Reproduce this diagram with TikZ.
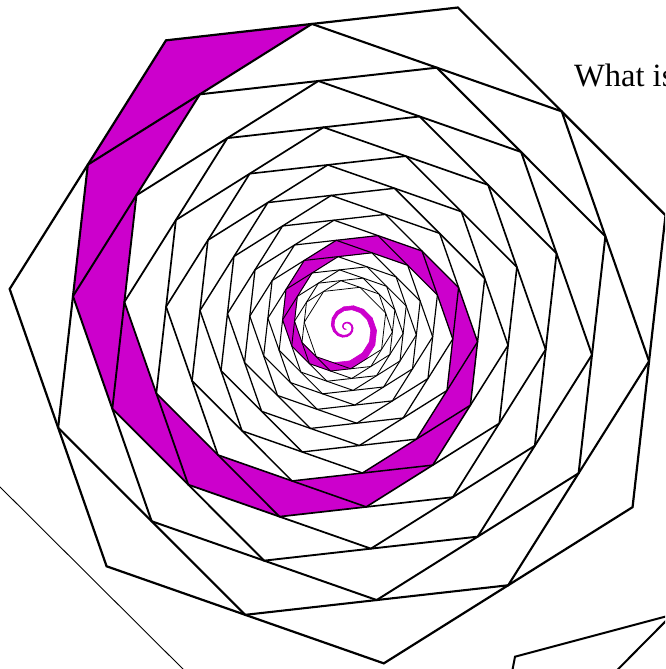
\documentclass[tikz,border=0pt]{standalone}
\usepackage{fontspec}
\setmainfont{Liberation Serif}
\definecolor{spiralmag}{RGB}{204,0,204}
\tikzset{
  magtri/.style={fill=spiralmag, draw=spiralmag, line width=0.6pt, line join=round},
  heptline/.style={draw=black, line join=miter},
  extraline/.style={draw=black, line width=2pt, line join=miter},
  thinline/.style={draw=black, line width=0.9pt}
}
\begin{document}
\begin{tikzpicture}[x=1pt,y=1pt]
\useasboundingbox (0,0) rectangle (665,669);
\clip (0,0) rectangle (665,669);
\begin{scope}[shift={(346,342)}]
  % magenta spiral of corner triangles
  \foreach \k in {1,...,48}{
    \pgfmathsetmacro\r{338.5*0.900969^(\k-1)}
    \pgfmathsetmacro\rc{\r*0.900969}
    \pgfmathsetmacro\a{70.7+51.428571+(\k-1)*25.714286}
    \filldraw[magtri] (\a:\r) -- (\a+25.714286:\rc) -- (\a-25.714286:\rc) -- cycle;
  }
  % nested heptagons
  \foreach \k in {1,...,21}{
    \pgfmathsetmacro\r{338.5*0.900969^(\k-1)}
    \pgfmathsetmacro\p{70.7+(\k-1)*25.714286}
    \pgfmathsetmacro\lw{2.2*0.949194^(\k-1)}
    \draw[heptline, line width=\lw pt] (\p:\r)
      \foreach \j in {1,...,6}{ -- (\p+\j*51.428571:\r) } -- cycle;
  }
\end{scope}
% pieces of neighbouring figures
\draw[thinline] (-10,192) -- (193,-10);
\draw[extraline] (511.5,-6) -- (515,12.3) -- (680,56.3);
\draw[extraline] (612,-6.3) -- (680,62.3);
\node[anchor=base west, font=\fontsize{32.5}{38}\selectfont, inner sep=0pt] (question) at (574,582) {What is};
\end{tikzpicture}
\end{document}
